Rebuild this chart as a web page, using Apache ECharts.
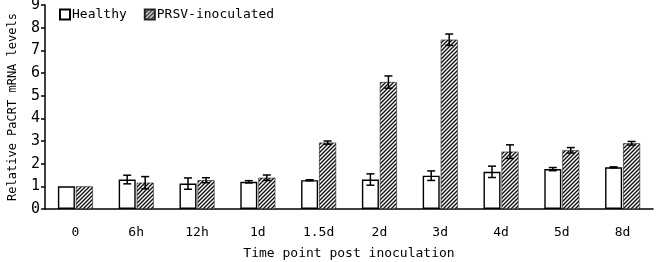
<!DOCTYPE html>
<html>
<head>
<meta charset="utf-8">
<script src="https://cdn.jsdelivr.net/npm/echarts@6/dist/echarts.min.js"></script>
<style>
  html, body { margin: 0; padding: 0; background: #fff; }
  #chart { width: 656px; height: 262px; }
</style>
</head>
<body>
<div id="chart"></div>
<script>
const FONT_FAMILY = "'DejaVu Sans Mono', 'Liberation Mono', monospace"

const categories = ['0', '6h', '12h', '1d', '1.5d', '2d', '3d', '4d', '5d', '8d']
const healthy = [1.0, 1.3, 1.12, 1.2, 1.27, 1.3, 1.47, 1.64, 1.76, 1.84]
const healthyErr = [0, 0.19, 0.25, 0.05, 0.02, 0.25, 0.21, 0.25, 0.07, 0.02]
const prsv = [1.0, 1.16, 1.27, 1.38, 2.93, 5.6, 7.47, 2.53, 2.59, 2.9]
const prsvErr = [0, 0.27, 0.11, 0.12, 0.07, 0.27, 0.25, 0.3, 0.12, 0.08]

const BAR_WIDTH = 17
const BAR_GAP = 1

// diagonal hatch used for the inoculated bars
function makeHatch() {
  const c = document.createElement('canvas')
  c.width = 4
  c.height = 4
  const ctx = c.getContext('2d')
  ctx.fillStyle = '#fff'
  ctx.fillRect(0, 0, 4, 4)
  ctx.strokeStyle = '#111'
  ctx.lineWidth = 1.4
  ctx.beginPath()
  ctx.moveTo(0, 4); ctx.lineTo(4, 0)
  ctx.moveTo(-1, 1); ctx.lineTo(1, -1)
  ctx.moveTo(3, 5); ctx.lineTo(5, 3)
  ctx.stroke()
  return c
}

const hatch = { image: makeHatch(), repeat: 'repeat' }

function errorSeries(values, errs, offset) {
  return {
    type: 'custom',
    silent: true,
    z: 5,
    data: values.map((v, i) => [i, v, errs[i]]),
    renderItem(params, api) {
      const e = api.value(2)
      if (!e) return null
      const v = api.value(1)
      const top = api.coord([api.value(0), v + e])
      const bot = api.coord([api.value(0), v - e])
      const x = top[0] + offset
      const cap = 4
      const style = { stroke: '#000', lineWidth: 1.5 }
      return {
        type: 'group',
        children: [
          { type: 'line', shape: { x1: x, y1: top[1], x2: x, y2: bot[1] }, style },
          { type: 'line', shape: { x1: x - cap, y1: top[1], x2: x + cap, y2: top[1] }, style },
          { type: 'line', shape: { x1: x - cap, y1: bot[1], x2: x + cap, y2: bot[1] }, style },
        ],
      }
    },
  }
}

const chart = echarts.init(document.getElementById('chart'))
const off = (BAR_WIDTH + BAR_GAP) / 2

chart.setOption({
  animation: false,
  textStyle: { fontFamily: FONT_FAMILY, color: '#000' },
  legend: {
    left: 54,
    top: 3,
    itemWidth: 10,
    itemHeight: 10,
    itemGap: 17,
    icon: 'rect',
    textStyle: { fontFamily: FONT_FAMILY, fontSize: 13, color: '#000', padding: [0, 0, 0, -3] },
    data: ['Healthy', 'PRSV-inoculated'],
  },
  grid: { left: 45, right: 3, top: 5, bottom: 53, outerBoundsMode: 'none', containLabel: false },
  xAxis: {
    type: 'category',
    data: categories,
    name: 'Time point post inoculation',
    nameLocation: 'middle',
    nameGap: 38,
    nameTextStyle: { fontFamily: FONT_FAMILY, fontSize: 13, color: '#000' },
    axisLine: { lineStyle: { color: '#000', width: 1.5 } },
    axisTick: { inside: true, length: 4, lineStyle: { color: '#000', width: 1.5 } },
    axisLabel: { fontFamily: FONT_FAMILY, fontSize: 13, color: '#000', margin: 17 },
  },
  yAxis: {
    type: 'value',
    min: 0,
    max: 9,
    interval: 1,
    name: 'Relative PaCRT mRNA levels',
    nameLocation: 'middle',
    nameGap: 26,
    nameTextStyle: { fontFamily: FONT_FAMILY, fontSize: 12, color: '#000' },
    axisLine: { show: true, lineStyle: { color: '#000', width: 1.5 } },
    axisTick: { show: true, length: 4, lineStyle: { color: '#000', width: 1.5 } },
    axisLabel: { fontFamily: FONT_FAMILY, fontSize: 15, color: '#000', margin: 5 },
    splitLine: { show: false },
  },
  series: [
    {
      name: 'Healthy',
      type: 'bar',
      data: healthy,
      barWidth: BAR_WIDTH,
      barGap: (BAR_GAP / BAR_WIDTH * 100) + '%',
      itemStyle: { color: '#fff', borderColor: '#000', borderWidth: 1.4 },
    },
    {
      name: 'PRSV-inoculated',
      type: 'bar',
      data: prsv,
      barWidth: BAR_WIDTH,
      itemStyle: { color: hatch, borderColor: '#222', borderWidth: 0.6 },
    },
    errorSeries(healthy, healthyErr, -off),
    errorSeries(prsv, prsvErr, off),
  ],
})
</script>
</body>
</html>
